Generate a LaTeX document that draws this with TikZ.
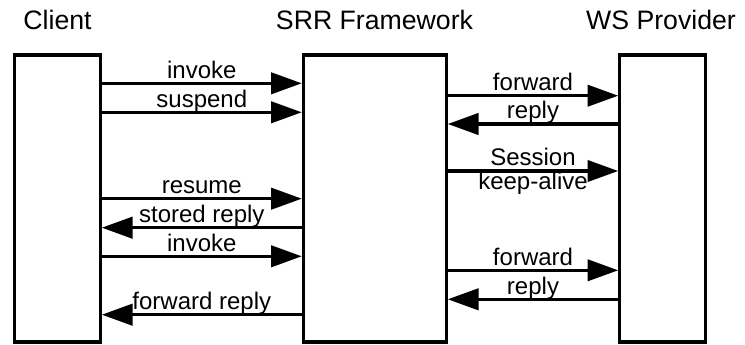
\documentclass[tikz,border=0pt]{standalone}
\usepackage{fontspec}
\setmainfont{Liberation Sans}
\usetikzlibrary{arrows.meta}
\begin{document}
\begin{tikzpicture}[x=0.75pt, y=-0.75pt,
  lifeline/.style={draw, line width=2.3pt, inner sep=0pt, minimum height=215.25pt},
  msg/.style={line width=2.3pt, -{Triangle[length=23pt, width=16pt]}},
  lab/.style={font=\fontsize{18}{20}\selectfont, inner sep=0pt, anchor=base, yshift=3.75pt},
  labbelow/.style={font=\fontsize{18}{20}\selectfont, inner sep=0pt, anchor=base, yshift=-14.25pt},
  heading/.style={font=\fontsize{20}{22}\selectfont, inner sep=0pt, anchor=base}]
\useasboundingbox (0,0) rectangle (745,345);

% participants
\node[lifeline, minimum width=64.2pt]   (client) at (57.5,198.5) {};
\node[lifeline, minimum width=107.25pt] (srr)    at (374.8,198.5) {};
\node[lifeline, minimum width=64.5pt]   (ws)     at (662.7,198.5) {};

\node[heading] (hclient) at (57.5,29.3)  {Client};
\node[heading] (hsrr)    at (374.5,29.3) {SRR Framework};
\node[heading] (hws)     at (661,29.3)   {WS Provider};

% client <-> framework
\draw[msg] (client.east |- 0,83.3)  -- node[lab] (m1) {invoke}  (srr.west |- 0,83.3);
\draw[msg] (client.east |- 0,112.3) -- node[lab] (m2) {suspend} (srr.west |- 0,112.3);
\draw[msg] (client.east |- 0,198.7) -- node[lab] (m6) {resume}  (srr.west |- 0,198.7);
\draw[msg] (srr.west |- 0,227.7)    -- node[lab] (m7) {stored reply} (client.east |- 0,227.7);
\draw[msg] (client.east |- 0,256.3) -- node[lab] (m8) {invoke}  (srr.west |- 0,256.3);
\draw[msg] (srr.west |- 0,314.7)    -- node[lab] (m11) {forward reply} (client.east |- 0,314.7);

% framework <-> provider
\draw[msg] (srr.east |- 0,95.7)  -- node[lab] (m3) {forward} (ws.west |- 0,95.7);
\draw[msg] (ws.west |- 0,124)    -- node[lab] (m4) {reply}   (srr.east |- 0,124);
\draw[msg] (srr.east |- 0,171)   -- node[lab] (m5a) {Session}
                                    node[labbelow] (m5b) {keep-alive} (ws.west |- 0,171);
\draw[msg] (srr.east |- 0,270.3) -- node[lab] (m9) {forward} (ws.west |- 0,270.3);
\draw[msg] (ws.west |- 0,299.3)  -- node[lab] (m10) {reply}  (srr.east |- 0,299.3);
\end{tikzpicture}
\end{document}
